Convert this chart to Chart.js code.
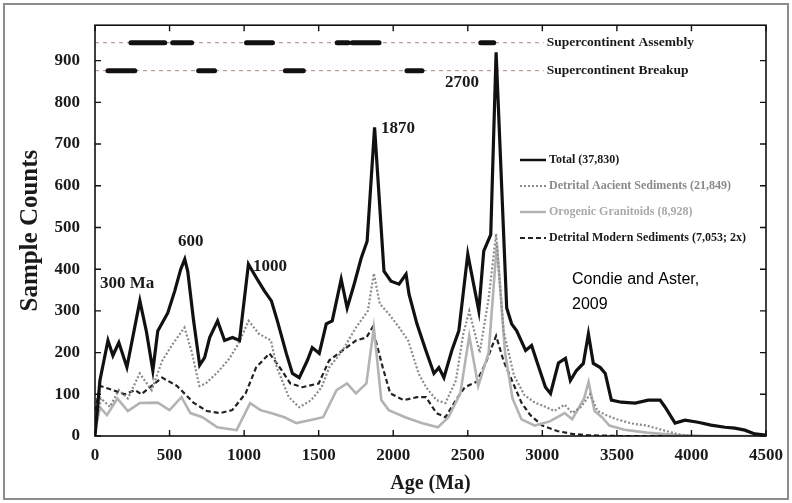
<!DOCTYPE html>
<html>
<head>
<meta charset="utf-8">
<script src="https://cdn.jsdelivr.net/npm/chart.js@4.4.1/dist/chart.umd.min.js"></script>
<style>
  html, body { margin: 0; padding: 0; background: #fff; }
  #wrap { width: 792px; height: 503px; position: relative; }
</style>
</head>
<body>
<div id="wrap"><canvas id="chartZircon" width="792" height="503"></canvas></div>
<script>
/* ------------------------------
 * Data (Ma, sample counts)
 * ------------------------------ */
const totalCounts = [
  [0,0],[15,60],[33,133],[87,229],[120,193],[160,224],[214,165],[301,324],[345,250],[388,157],
  [421,252],[488,295],[535,348],[575,400],[602,424],[622,395],[660,280],[702,170],[735,188],[769,236],
  [822,276],[869,229],[922,236],[969,229],[1029,412],[1083,379],[1136,348],[1183,324],[1223,276],[1283,198],
  [1324,150],[1370,140],[1424,181],[1457,212],[1504,198],[1551,269],[1591,276],[1651,376],[1691,307],[1738,364],
  [1785,426],[1825,467],[1875,740],[1938,395],[1985,371],[2039,364],[2086,388],[2106,340],[2159,269],[2219,205],
  [2273,150],[2306,164],[2340,140],[2393,205],[2440,252],[2500,436],[2574,300],[2607,443],[2654,483],[2690,920],
  [2761,307],[2794,269],[2828,252],[2888,205],[2928,217],[2961,181],[3021,117],[3055,102],[3108,175],[3155,186],
  [3188,133],[3229,157],[3275,174],[3309,245],[3342,174],[3389,164],[3422,150],[3463,86],[3529,81],[3623,79],
  [3710,86],[3790,86],[3824,69],[3890,31],[3957,38],[4044,33],[4131,26],[4225,21],[4291,19],[4358,14],
  [4425,5],[4500,2]
];

const ancientSedCounts = [
  [0,10],[40,90],[100,70],[160,110],[220,90],[300,150],[380,110],[450,180],[520,220],[600,260],
  [650,200],[700,120],[740,125],[820,152],[900,185],[960,220],[1030,276],[1100,245],[1180,229],[1220,164],
  [1300,93],[1370,69],[1450,86],[1520,117],[1570,164],[1660,205],[1750,260],[1830,300],[1870,390],[1910,317],
  [1970,293],[2040,260],[2100,229],[2170,150],[2220,117],[2290,86],[2350,79],[2420,133],[2470,245],[2510,300],
  [2580,200],[2640,330],[2690,485],[2740,252],[2810,145],[2880,98],[2950,80],[3020,70],[3080,60],[3150,75],
  [3200,55],[3260,70],[3320,100],[3370,60],[3430,50],[3500,40],[3600,30],[3700,25],[3800,15],[3900,5],
  [4000,0],[4500,0]
];

const granitoidCounts = [
  [0,10],[33,69],[80,50],[150,90],[220,60],[300,79],[420,80],[500,62],[580,93],[640,55],
  [720,45],[820,21],[950,14],[1040,79],[1110,62],[1180,55],[1270,45],[1350,31],[1440,38],[1530,45],
  [1620,110],[1690,126],[1750,102],[1820,126],[1870,260],[1920,86],[1970,62],[2080,45],[2190,31],[2300,21],
  [2370,45],[2450,102],[2510,240],[2570,120],[2640,200],[2695,460],[2750,200],[2800,90],[2860,40],[2950,25],
  [3050,35],[3150,55],[3200,40],[3280,90],[3310,130],[3350,60],[3400,45],[3450,25],[3550,15],[3700,8],
  [3900,2],[4100,0],[4500,0]
];

const modernSedCounts = [
  [0,60],[35,120],[120,110],[200,100],[270,110],[310,100],[450,140],[550,120],[660,80],[750,60],
  [840,55],[920,62],[1010,102],[1080,164],[1170,198],[1240,164],[1310,126],[1390,117],[1500,126],[1570,181],
  [1660,205],[1750,229],[1820,236],[1860,260],[1930,164],[1980,102],[2070,86],[2160,93],[2220,93],[2290,55],
  [2350,45],[2420,86],[2480,117],[2560,130],[2620,175],[2690,240],[2740,180],[2800,130],[2860,80],[2920,50],
  [3000,25],[3100,12],[3200,5],[3300,2],[3500,0],[4500,0]
];

// supercontinent bars (start Ma, end Ma)
const assemblyLevel = 943;
const breakupLevel = 876;
const assemblyEvents = [[241,468],[521,648],[1016,1190],[1624,1698],[1725,1905],[2587,2674]];
const breakupEvents = [[87,267],[695,802],[1277,1397],[2092,2193]];
const guideRange = [0, 3010];

const xTicks = [0,500,1000,1500,2000,2500,3000,3500,4000,4500];
const yTicks = [0,100,200,300,400,500,600,700,800,900];

const seriesNames = [
  'Total (37,830)',
  'Detrital Aacient Sediments (21,849)',
  'Orogenic Granitoids (8,928)',
  'Detrital Modern Sediments (7,053; 2x)'
];

/* ------------------------------
 * helpers
 * ------------------------------ */
const toXY = arr => arr.map(([x, y]) => ({ x, y }));
const barsAt = (events, level) => {
  const out = [];
  events.forEach(([a, b]) => {
    out.push({ x: a, y: level }, { x: b, y: level }, { x: b + 1, y: null });
  });
  return out;
};

const SERIF = '"Liberation Serif", "DejaVu Serif", serif';

/* ------------------------------
 * plugin: frame, inward ticks, labels, legend
 * ------------------------------ */
const decorPlugin = {
  id: 'decor',
  beforeDraw(chart) {
    const { ctx } = chart;
    ctx.save();
    ctx.strokeStyle = '#8c8c8c';
    ctx.lineWidth = 2;
    ctx.strokeRect(4, 4, 784, 495);
    ctx.restore();
  },
  afterDatasetsDraw(chart) {
    const { ctx, chartArea: a, scales } = chart;
    const xs = scales.x, ys = scales.y;
    ctx.save();
    // plot frame
    ctx.strokeStyle = '#111';
    ctx.lineWidth = 1.6;
    ctx.strokeRect(a.left, a.top, a.right - a.left, a.bottom - a.top);
    // inward ticks
    ctx.lineWidth = 1.4;
    ctx.beginPath();
    xTicks.forEach(v => {
      const px = xs.getPixelForValue(v);
      ctx.moveTo(px, a.bottom); ctx.lineTo(px, a.bottom - 6);
      ctx.moveTo(px, a.top); ctx.lineTo(px, a.top + 6);
    });
    yTicks.forEach(v => {
      const py = ys.getPixelForValue(v);
      ctx.moveTo(a.left, py); ctx.lineTo(a.left + 6, py);
      ctx.moveTo(a.right, py); ctx.lineTo(a.right - 6, py);
    });
    ctx.stroke();

    // supercontinent labels
    ctx.fillStyle = '#1a1a1a';
    ctx.font = 'bold 13.5px ' + SERIF;
    ctx.textBaseline = 'middle';
    ctx.textAlign = 'left';
    const lx = xs.getPixelForValue(guideRange[1]) + 3;
    ctx.fillText('Supercontinent Assembly', lx, ys.getPixelForValue(assemblyLevel));
    ctx.fillText('Supercontinent Breakup', lx, ys.getPixelForValue(breakupLevel));

    // peak labels
    ctx.font = 'bold 17px ' + SERIF;
    ctx.fillStyle = '#1a1a1a';
    ctx.fillText('300 Ma', 100, 284);
    ctx.fillText('600', 178, 242);
    ctx.fillText('1000', 253, 267);
    ctx.fillText('1870', 381, 129);
    ctx.fillText('2700', 445, 83);

    // citation
    ctx.font = '16px "Liberation Sans", Arial, sans-serif';
    ctx.fillStyle = '#000';
    ctx.fillText('Condie and Aster,', 572, 280);
    ctx.fillText('2009', 572, 305);

    // legend
    const ds = chart.data.datasets;
    ctx.font = 'bold 12px ' + SERIF;
    [0, 1, 2, 3].forEach((i, k) => {
      const d = ds[i];
      const y = 160 + k * 26;
      ctx.save();
      ctx.strokeStyle = d.borderColor;
      ctx.lineWidth = Math.min(d.borderWidth, 2.5);
      ctx.setLineDash(d.borderDash || []);
      ctx.beginPath();
      ctx.moveTo(520, y); ctx.lineTo(546, y);
      ctx.stroke();
      ctx.restore();
      ctx.fillStyle = i === 1 ? '#8a8a8a' : i === 2 ? '#aaaaaa' : '#1a1a1a';
      ctx.fillText(seriesNames[i], 549, y);
    });
    ctx.restore();
  }
};

/* ------------------------------
 * chart
 * ------------------------------ */
const plain = v => String(v);

const ctx = document.getElementById('chartZircon');
new Chart(ctx, {
  type: 'line',
  data: {
    datasets: [
      {
        label: seriesNames[0],
        data: toXY(totalCounts),
        borderColor: '#111',
        borderWidth: 3.2,
        pointRadius: 0,
        tension: 0,
        order: 0
      },
      {
        label: seriesNames[1],
        data: toXY(ancientSedCounts),
        borderColor: '#8a8a8a',
        borderWidth: 2.2,
        borderDash: [2, 2],
        pointRadius: 0,
        tension: 0,
        order: 1
      },
      {
        label: seriesNames[2],
        data: toXY(granitoidCounts),
        borderColor: '#b3b3b3',
        borderWidth: 2.6,
        pointRadius: 0,
        tension: 0,
        order: 2
      },
      {
        label: seriesNames[3],
        data: toXY(modernSedCounts),
        borderColor: '#222',
        borderWidth: 2.2,
        borderDash: [5, 3],
        pointRadius: 0,
        tension: 0,
        order: 3
      },
      {
        label: 'assembly guide',
        data: toXY([[guideRange[0], assemblyLevel], [guideRange[1], assemblyLevel]]),
        borderColor: '#b08a80',
        borderWidth: 1,
        borderDash: [4, 4],
        pointRadius: 0,
        order: 6
      },
      {
        label: 'breakup guide',
        data: toXY([[guideRange[0], breakupLevel], [guideRange[1], breakupLevel]]),
        borderColor: '#b08a80',
        borderWidth: 1,
        borderDash: [4, 4],
        pointRadius: 0,
        order: 6
      },
      {
        label: 'assembly',
        data: barsAt(assemblyEvents, assemblyLevel),
        borderColor: '#111',
        borderWidth: 5,
        borderCapStyle: 'round',
        pointRadius: 0,
        spanGaps: false,
        order: 4
      },
      {
        label: 'breakup',
        data: barsAt(breakupEvents, breakupLevel),
        borderColor: '#111',
        borderWidth: 5,
        borderCapStyle: 'round',
        pointRadius: 0,
        spanGaps: false,
        order: 4
      }
    ]
  },
  options: {
    responsive: false,
    animation: false,
    layout: { padding: { left: 0, top: 22, right: 24, bottom: 0 } },
    plugins: {
      legend: { display: false },
      tooltip: { enabled: false }
    },
    scales: {
      x: {
        type: 'linear',
        min: 0,
        max: 4500,
        afterFit(scale) { scale.height = 67; },
        afterBuildTicks(scale) { scale.ticks = xTicks.map(v => ({ value: v })); },
        grid: { display: false, drawTicks: false },
        border: { display: false },
        ticks: {
          padding: 9,
          color: '#1a1a1a',
          callback: plain,
          font: { family: SERIF, size: 17, weight: 'bold' }
        },
        title: {
          display: true,
          text: 'Age (Ma)',
          color: '#1a1a1a',
          font: { family: SERIF, size: 20, weight: 'bold' },
          padding: { top: 0, bottom: 7 }
        }
      },
      y: {
        type: 'linear',
        min: 0,
        max: 985,
        afterFit(scale) { scale.width = 95; },
        afterBuildTicks(scale) { scale.ticks = yTicks.map(v => ({ value: v })); },
        grid: { display: false, drawTicks: false },
        border: { display: false },
        ticks: {
          padding: 15,
          color: '#1a1a1a',
          callback: plain,
          font: { family: SERIF, size: 17, weight: 'bold' }
        },
        title: {
          display: true,
          text: 'Sample Counts',
          color: '#1a1a1a',
          font: { family: SERIF, size: 25, weight: 'bold' },
          padding: { top: 16, bottom: 0 }
        }
      }
    }
  },
  plugins: [decorPlugin]
});
</script>
</body>
</html>
